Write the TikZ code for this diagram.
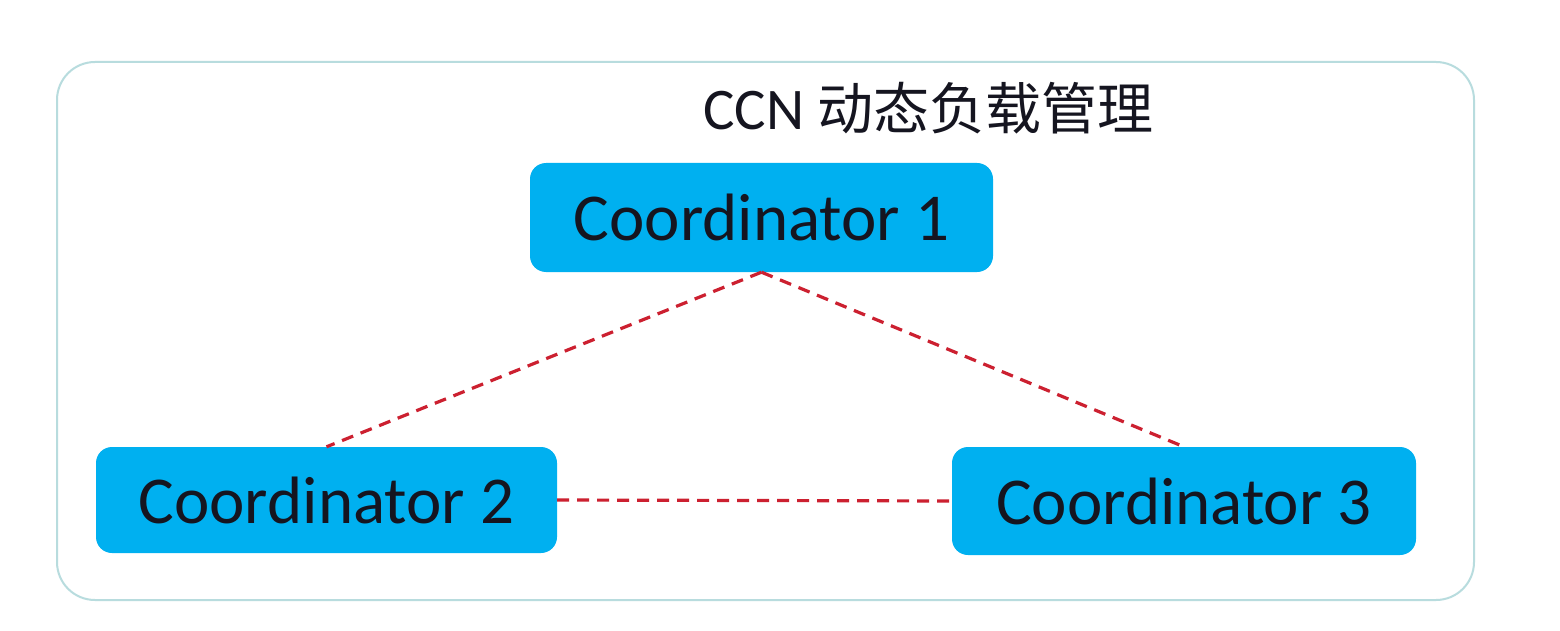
\documentclass[tikz,border=0pt]{standalone}
\usepackage{fontspec}
\setmainfont{Carlito}
\newfontfamily\cjk{Noto Sans CJK SC}
\definecolor{boxcyan}{HTML}{00B0F0}
\definecolor{framecol}{HTML}{B8DCDE}
\definecolor{linkred}{HTML}{CC2030}
\definecolor{txtcol}{HTML}{151520}
\begin{document}
\begin{tikzpicture}[x=1pt,y=-1pt,
  coordbox/.style={draw=none, fill=boxcyan, rounded corners=16pt, minimum width=#1, text=txtcol,
     font=\fontsize{67}{72}\selectfont, inner sep=0pt},
  coordbox/.default=463pt,
  link/.style={draw=linkred, line width=3.2pt, dash pattern=on 12pt off 8pt}]
\useasboundingbox (0,0) rectangle (1560,631);
\fill[white] (0,0) rectangle (1560,631);
\node[draw=framecol, line width=2pt, rounded corners=38pt, minimum width=1417pt, minimum height=538pt, inner sep=0pt] (frame) at (765.5,331) {};
\node[anchor=west, text=txtcol, inner sep=0pt] (title) at (703,108) {\fontsize{59}{64}\selectfont CCN {\cjk\fontsize{56}{60}\selectfont 动态负载管理}};
\node[coordbox=463pt, minimum height=109pt] (c1) at (761.5,217.5) {Coordinator 1};
\node[coordbox=461pt, minimum height=106pt] (c2) at (326.5,500) {Coordinator 2};
\node[coordbox=464pt, minimum height=108pt] (c3) at (1184,501) {Coordinator 3};
\draw[link] (c1.south) -- (c2.north);
\draw[link] (c1.south) -- (c3.north);
\draw[link] (c2.east) -- (c3.west);
\end{tikzpicture}
\end{document}
